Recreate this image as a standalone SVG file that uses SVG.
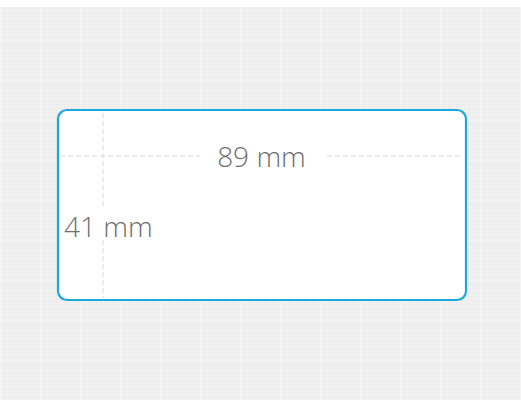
<svg xmlns="http://www.w3.org/2000/svg" width="521" height="400" viewBox="0 0 521 400">
<style>
.dim{stroke:#d9d9d9;stroke-width:1;stroke-dasharray:5 3;fill:none}
.lbl{font-family:"Open Sans","Liberation Sans",sans-serif;font-weight:300;font-size:28px;fill:#6e6e6e}
</style>
<defs>
<pattern id="g" width="4" height="4" patternUnits="userSpaceOnUse">
<rect width="4" height="4" fill="#f1f1f1"/>
<path d="M0 0.5H4M0.5 0V4" stroke="#ececec" stroke-width="1"/>
</pattern>
<pattern id="G" width="40" height="40" patternUnits="userSpaceOnUse">
<rect width="40" height="40" fill="url(#g)"/>
<path d="M0 0.5H40M0.5 0V40" stroke="#f5f5f5" stroke-width="1"/>
</pattern>
</defs>
<rect width="521" height="400" fill="#ffffff"/>
<rect y="7" width="521" height="393" fill="url(#G)"/>
<g id="label">
<rect x="58" y="110" width="408" height="190" rx="9" fill="#ffffff" stroke="#1ba9dd" stroke-width="2.2"/>
</g>
<g id="dimensions">
<path class="dim" d="M60 156H200M327 156H463"/>
<path class="dim" d="M103 113V208M103 240V298"/>
</g>
<g id="texts">
<text class="lbl" x="261.5" y="167" text-anchor="middle">89 mm</text>
<text class="lbl" x="64" y="237">41 mm</text>
</g>
</svg>
